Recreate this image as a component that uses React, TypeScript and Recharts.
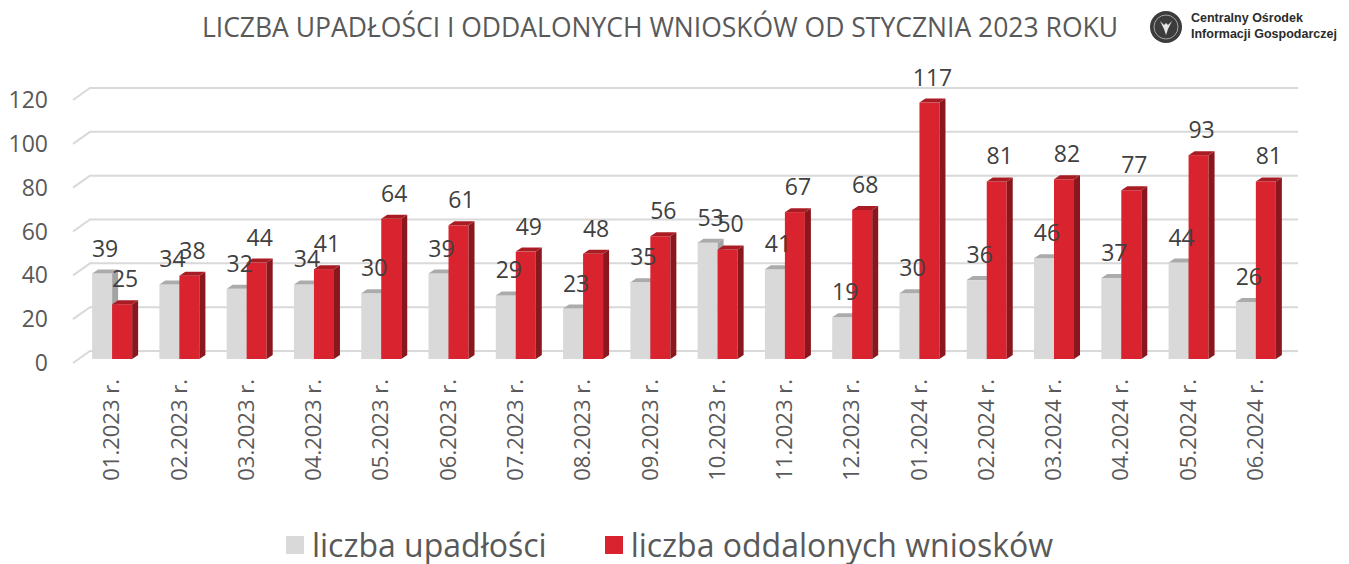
import React from 'react';
import { BarChart, Bar, XAxis, YAxis, CartesianGrid, LabelList } from 'recharts';

const categories = ['01.2023 r.', '02.2023 r.', '03.2023 r.', '04.2023 r.', '05.2023 r.', '06.2023 r.', '07.2023 r.', '08.2023 r.', '09.2023 r.', '10.2023 r.', '11.2023 r.', '12.2023 r.', '01.2024 r.', '02.2024 r.', '03.2024 r.', '04.2024 r.', '05.2024 r.', '06.2024 r.'];
const upadlosci = [39, 34, 32, 34, 30, 39, 29, 23, 35, 53, 41, 19, 30, 36, 46, 37, 44, 26];
const oddalone = [25, 38, 44, 41, 64, 61, 49, 48, 56, 50, 67, 68, 117, 81, 82, 77, 93, 81];
const yTicks = [0, 20, 40, 60, 80, 100, 120];

const TITLE = 'LICZBA UPADŁOŚCI I ODDALONYCH WNIOSKÓW OD STYCZNIA 2023 ROKU';
const SERIES_A = 'liczba upadłości';
const SERIES_B = 'liczba oddalonych wniosków';

const data = categories.map((c, i) => ({ cat: c, a: upadlosci[i], b: oddalone[i] }));

const FONT = '"Open Sans", sans-serif';
const TEXT = '#595959';
const DX = 6;
const DY = 4;

const make3D = (front: string, side: string, top: string) => (props: any) => {
  const { x, y, width, height } = props;
  if (width == null || height == null) return null;
  return (
    <g>
      <rect x={x} y={y} width={width} height={height} fill={front} />
      <polygon points={`${x + width},${y} ${x + width + DX},${y - DY} ${x + width + DX},${y + height - DY} ${x + width},${y + height}`} fill={side} />
      <polygon points={`${x},${y} ${x + DX},${y - DY} ${x + width + DX},${y - DY} ${x + width},${y}`} fill={top} />
    </g>
  );
};

const GrayShape = make3D('#d9d9d9', '#a3a3a3', '#ababab');
const RedShape = make3D('#d9232f', '#8a171d', '#a91c24');

const ValueLabel = (props: any) => {
  const { x, y, width, value } = props;
  return (
    <text x={x + width / 2 + 3} y={y - 17} textAnchor="middle" fontSize={23} fill="#404040" fontFamily={FONT}>
      {value}
    </text>
  );
};

const YTick = (props: any) => {
  const { y, payload } = props;
  return (
    <text x={48} y={y + 12} textAnchor="end" fontSize={23} fill={TEXT} fontFamily={FONT}>
      {payload.value}
    </text>
  );
};

const XTick = (props: any) => {
  const { x, y, payload } = props;
  const ty = y + 20;
  return (
    <text x={x} y={ty} transform={`rotate(-90, ${x}, ${ty})`} textAnchor="end" dy="0.35em" fontSize={22} fill={TEXT} fontFamily={FONT}>
      {payload.value}
    </text>
  );
};

const GridLine = (props: any) => {
  const { x1, x2, y1 } = props;
  return (
    <path d={`M ${x1 - 5} ${y1 + 4} L ${x1 + 12} ${y1 - 8} L ${x2 + 9} ${y1 - 8}`} stroke="#d9d9d9" strokeWidth={2} fill="none" />
  );
};

export default function App() {
  return (
    <div style={{ position: 'absolute', left: 0, top: 0, width: 1349, height: 564, background: '#fff', fontFamily: FONT }}>
      <div style={{ position: 'absolute', left: 0, top: 14, width: 1320, textAlign: 'center', fontSize: 26.5, lineHeight: '26.5px', color: TEXT, whiteSpace: 'nowrap' }}>
        {TITLE}
      </div>
      <svg style={{ position: 'absolute', left: 1149, top: 10 }} width={36} height={36}>
        <circle cx={17} cy={17} r={16} fill="#3c3c3c" />
        <circle cx={17} cy={17} r={12} fill="none" stroke="#bdbdbd" strokeWidth={0.8} />
        <path d="M11 11 L15 19 L17 25 L19 19 L23 11 L19 15 L17 13 L15 15 Z" fill="#e6e6e6" />
      </svg>
      <div style={{ position: 'absolute', left: 1191, top: 10, fontFamily: '"Liberation Sans", Arial, sans-serif', fontWeight: 'bold', fontSize: 12.5, lineHeight: '16px', color: '#2b2b2b' }}>
        <div>Centralny Ośrodek</div>
        <div>Informacji Gospodarczej</div>
      </div>
      <div style={{ position: 'absolute', left: 0, top: 0 }}>
        <BarChart width={1349} height={564} data={data} margin={{ top: 96, right: 60, left: 0, bottom: 0 }} barCategoryGap="21%" barGap={0}>
          <CartesianGrid vertical={false} horizontal={GridLine as any} />
          <XAxis dataKey="cat" height={205} axisLine={false} tickLine={false} tickSize={0} tickMargin={0} interval={0} tick={XTick as any} />
          <YAxis width={78} domain={[0, 120]} ticks={yTicks} axisLine={false} tickLine={false} tick={YTick as any} interval={0} />
          <Bar dataKey="a" isAnimationActive={false} shape={GrayShape as any}>
            <LabelList dataKey="a" content={ValueLabel as any} />
          </Bar>
          <Bar dataKey="b" isAnimationActive={false} shape={RedShape as any}>
            <LabelList dataKey="b" content={ValueLabel as any} />
          </Bar>
        </BarChart>
      </div>
      <div style={{ position: 'absolute', left: 0, top: 523, width: 1349, display: 'flex', justifyContent: 'center', alignItems: 'center', fontSize: 32, color: TEXT, whiteSpace: 'nowrap' }}>
        <div style={{ display: 'flex', alignItems: 'center', marginLeft: -10 }}>
          <span style={{ display: 'inline-block', width: 18, height: 18, background: '#d9d9d9', marginRight: 8 }} />
          <span>{SERIES_A}</span>
        </div>
        <div style={{ display: 'flex', alignItems: 'center', marginLeft: 58 }}>
          <span style={{ display: 'inline-block', width: 18, height: 18, background: '#d9232f', marginRight: 8 }} />
          <span>{SERIES_B}</span>
        </div>
      </div>
    </div>
  );
}
